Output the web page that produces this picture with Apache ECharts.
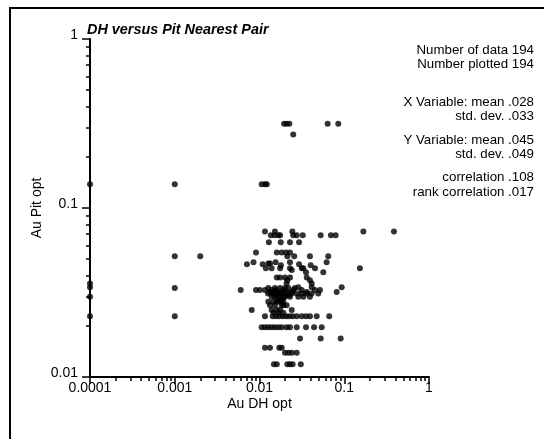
<!DOCTYPE html>
<html>
<head>
<meta charset="utf-8">
<script src="https://cdn.jsdelivr.net/npm/echarts@6/dist/echarts.min.js"></script>
<style>
  html, body { margin: 0; padding: 0; background: #fff; }
  #chart { width: 544px; height: 439px; }
</style>
</head>
<body>
<div id="chart"></div>
<script>
// Au grade pairs: drill hole (DH) against the nearest pit sample, log-log scatter
const chartTitle = 'DH versus Pit Nearest Pair';
const xName = 'Au DH opt';
const yName = 'Au Pit opt';

const xTickValues = [0.0001, 0.001, 0.01, 0.1, 1];
const xTickLabels = ['0.0001', '0.001', '0.01', '0.1', '1'];
const yTickValues = [0.01, 0.1, 1];
const yTickLabels = ['0.01', '0.1', '1'];

const statLines = [
  'Number of data 194',
  'Number plotted 194',
  'X Variable: mean .028',
  'std. dev. .033',
  'Y Variable: mean .045',
  'std. dev. .049',
  'correlation .108',
  'rank correlation .017'
];

// Pit grade of each group, and the DH grades paired with it
const pitGrades = [
  0.315, 0.272, 0.138, 0.0727, 0.069, 0.0627, 0.0545, 0.0518,
  0.0478, 0.047, 0.0465, 0.0459, 0.044, 0.0429, 0.0417,
  0.0388, 0.0374, 0.0358, 0.034, 0.0336, 0.0327, 0.0318, 0.0312,
  0.0305, 0.0298, 0.0285, 0.0279, 0.0266, 0.0249, 0.024,
  0.0229, 0.0197, 0.0169, 0.0149, 0.0139, 0.0119
];
const dhGrades = [
  [0.0195, 0.0209, 0.0225, 0.0637, 0.085],
  [0.025],
  [0.0001, 0.001, 0.0106, 0.0116, 0.0122],
  [0.0116, 0.0152, 0.0244, 0.168, 0.386],
  [0.0136, 0.015, 0.0167, 0.0175, 0.025, 0.0275, 0.0324, 0.0527, 0.0697, 0.0792],
  [0.0129, 0.0178, 0.0229, 0.0293],
  [0.0091, 0.016, 0.0183, 0.0206, 0.0229],
  [0.001, 0.002, 0.0213, 0.0257, 0.0394, 0.0648],
  [0.0085, 0.0155, 0.0229, 0.062],
  [0.0127, 0.0133],
  [0.0071, 0.0109, 0.0293],
  [0.0179, 0.0402],
  [0.0119, 0.0139, 0.0175, 0.0229, 0.0315, 0.0329, 0.0452, 0.153],
  [0.024],
  [0.0354, 0.0566],
  [0.016, 0.0175, 0.02, 0.0229, 0.0361],
  [0.0213, 0.0394],
  [0.0001, 0.0209, 0.0413],
  [0.0001, 0.0287, 0.0413, 0.0933],
  [0.001, 0.0127, 0.0152, 0.0175, 0.02, 0.0219, 0.0262],
  [0.006, 0.0091, 0.0101, 0.0116, 0.0139, 0.0157, 0.0191, 0.025, 0.0315, 0.0452, 0.0517],
  [0.0133, 0.0145, 0.0165, 0.0185, 0.0213, 0.0244, 0.0361, 0.0814],
  [0.0126, 0.0139, 0.016, 0.0175, 0.0183, 0.0209, 0.024, 0.0275, 0.0315, 0.0361, 0.0413, 0.0494],
  [0.0157, 0.0222],
  [0.0001, 0.0139, 0.0152, 0.0167, 0.0183, 0.0196, 0.02, 0.0229, 0.0287, 0.0329, 0.0394],
  [0.0167, 0.0183],
  [0.0127, 0.0146, 0.016, 0.0175, 0.0191],
  [0.0133, 0.0152, 0.0183, 0.0191, 0.0209],
  [0.0081, 0.0139, 0.016, 0.0175, 0.024],
  [0.0146, 0.0167, 0.0191],
  [0.0001, 0.001, 0.0116, 0.0143, 0.0157, 0.0171, 0.0188, 0.0206, 0.0225, 0.0246, 0.0275, 0.0315, 0.0354, 0.0394, 0.0473, 0.0665],
  [0.0106, 0.0116, 0.0127, 0.0139, 0.0152, 0.0167, 0.0183, 0.0209, 0.0229, 0.0275, 0.0354, 0.044, 0.0542],
  [0.0301, 0.0527, 0.0907],
  [0.0116, 0.0133, 0.0171, 0.0183],
  [0.02, 0.0219, 0.024, 0.0275],
  [0.0148, 0.016, 0.0213, 0.0229, 0.0246, 0.0307]
];

const points = [];
pitGrades.forEach((pit, i) => {
  dhGrades[i].forEach(dh => points.push([dh, pit]));
});

// minor ticks (2..9 within each decade), as exponents for a linear overlay axis
function minorExponents(values) {
  const out = [];
  for (let i = 0; i < values.length - 1; i++) {
    for (let m = 2; m <= 9; m++) out.push(Math.log10(values[i] * m));
  }
  return out;
}
const xMinor = minorExponents(xTickValues);
const yMinor = minorExponents(yTickValues);

function tickLabel(values, labels) {
  return v => {
    for (let i = 0; i < values.length; i++) {
      if (Math.abs(Math.log10(v) - Math.log10(values[i])) < 1e-6) return labels[i];
    }
    return '';
  };
}

const FONT = 'Liberation Sans';
const GRID = { left: 90, right: 115, top: 39, bottom: 62 };
const statY = [50, 64, 102.5, 116.5, 140, 154.5, 177.5, 192];
const log10 = Math.log10;

const chart = echarts.init(document.getElementById('chart'), null, { renderer: 'canvas' });
chart.setOption({
  animation: false,
  backgroundColor: '#fff',
  textStyle: { fontFamily: FONT },
  grid: GRID,
  xAxis: [
    {
      type: 'log', logBase: 10, min: xTickValues[0], max: xTickValues[xTickValues.length - 1],
      position: 'bottom',
      axisLine: { onZero: false, lineStyle: { color: '#000', width: 2 } },
      axisTick: { show: true, length: 7, lineStyle: { color: '#000', width: 1.5 } },
      minorTick: { show: false },
      splitLine: { show: false },
      axisLabel: { color: '#000', fontSize: 14, fontFamily: FONT, margin: 4, formatter: tickLabel(xTickValues, xTickLabels), showMinLabel: true, showMaxLabel: true },
      name: xName, nameLocation: 'middle', nameGap: 20, nameMoveOverlap: false,
      nameTextStyle: { color: '#000', fontSize: 14, fontFamily: FONT }
    },
    {
      type: 'value', min: log10(xTickValues[0]), max: log10(xTickValues[xTickValues.length - 1]),
      position: 'bottom', gridIndex: 0,
      axisLine: { show: false, onZero: false },
      axisTick: { show: true, length: 4, customValues: xMinor, lineStyle: { color: '#000', width: 1.5 } },
      axisLabel: { show: false },
      splitLine: { show: false }
    }
  ],
  yAxis: [
    {
      type: 'log', logBase: 10, min: yTickValues[0], max: yTickValues[yTickValues.length - 1],
      position: 'left',
      axisLine: { onZero: false, lineStyle: { color: '#000', width: 2 } },
      axisTick: { show: true, length: 8, lineStyle: { color: '#000', width: 1.5 } },
      minorTick: { show: false },
      splitLine: { show: false },
      axisLabel: { color: '#000', fontSize: 14, fontFamily: FONT, margin: 12, verticalAlign: 'bottom', lineHeight: 8, formatter: tickLabel(yTickValues, yTickLabels), showMinLabel: true, showMaxLabel: true },
      name: yName, nameLocation: 'middle', nameGap: 46, nameRotate: 90, nameMoveOverlap: false,
      nameTextStyle: { color: '#000', fontSize: 14, fontFamily: FONT }
    },
    {
      type: 'value', min: log10(yTickValues[0]), max: log10(yTickValues[yTickValues.length - 1]),
      position: 'left', gridIndex: 0,
      axisLine: { show: false, onZero: false },
      axisTick: { show: true, length: 4, customValues: yMinor, lineStyle: { color: '#000', width: 1.5 } },
      axisLabel: { show: false },
      splitLine: { show: false }
    }
  ],
  series: [{
    type: 'scatter',
    xAxisIndex: 0, yAxisIndex: 0,
    data: points,
    symbol: 'circle',
    symbolSize: 6,
    clip: false,
    itemStyle: { color: '#000' }
  }],
  graphic: [
    { type: 'line', shape: { x1: 10, y1: 7, x2: 10, y2: 439 }, style: { stroke: '#000', lineWidth: 2 } },
    { type: 'line', shape: { x1: 9, y1: 8, x2: 544, y2: 8 }, style: { stroke: '#000', lineWidth: 2 } },
    { type: 'text', x: 87, y: 30, style: { text: chartTitle, font: 'italic bold 14.4px "Liberation Sans"', fill: '#000', verticalAlign: 'middle' } }
  ].concat(statLines.map((t, i) => ({
    type: 'text', x: 534, y: statY[i],
    style: { text: t, font: '13.3px "Liberation Sans"', fill: '#000', align: 'right', verticalAlign: 'middle' }
  })))
});
</script>
</body>
</html>
